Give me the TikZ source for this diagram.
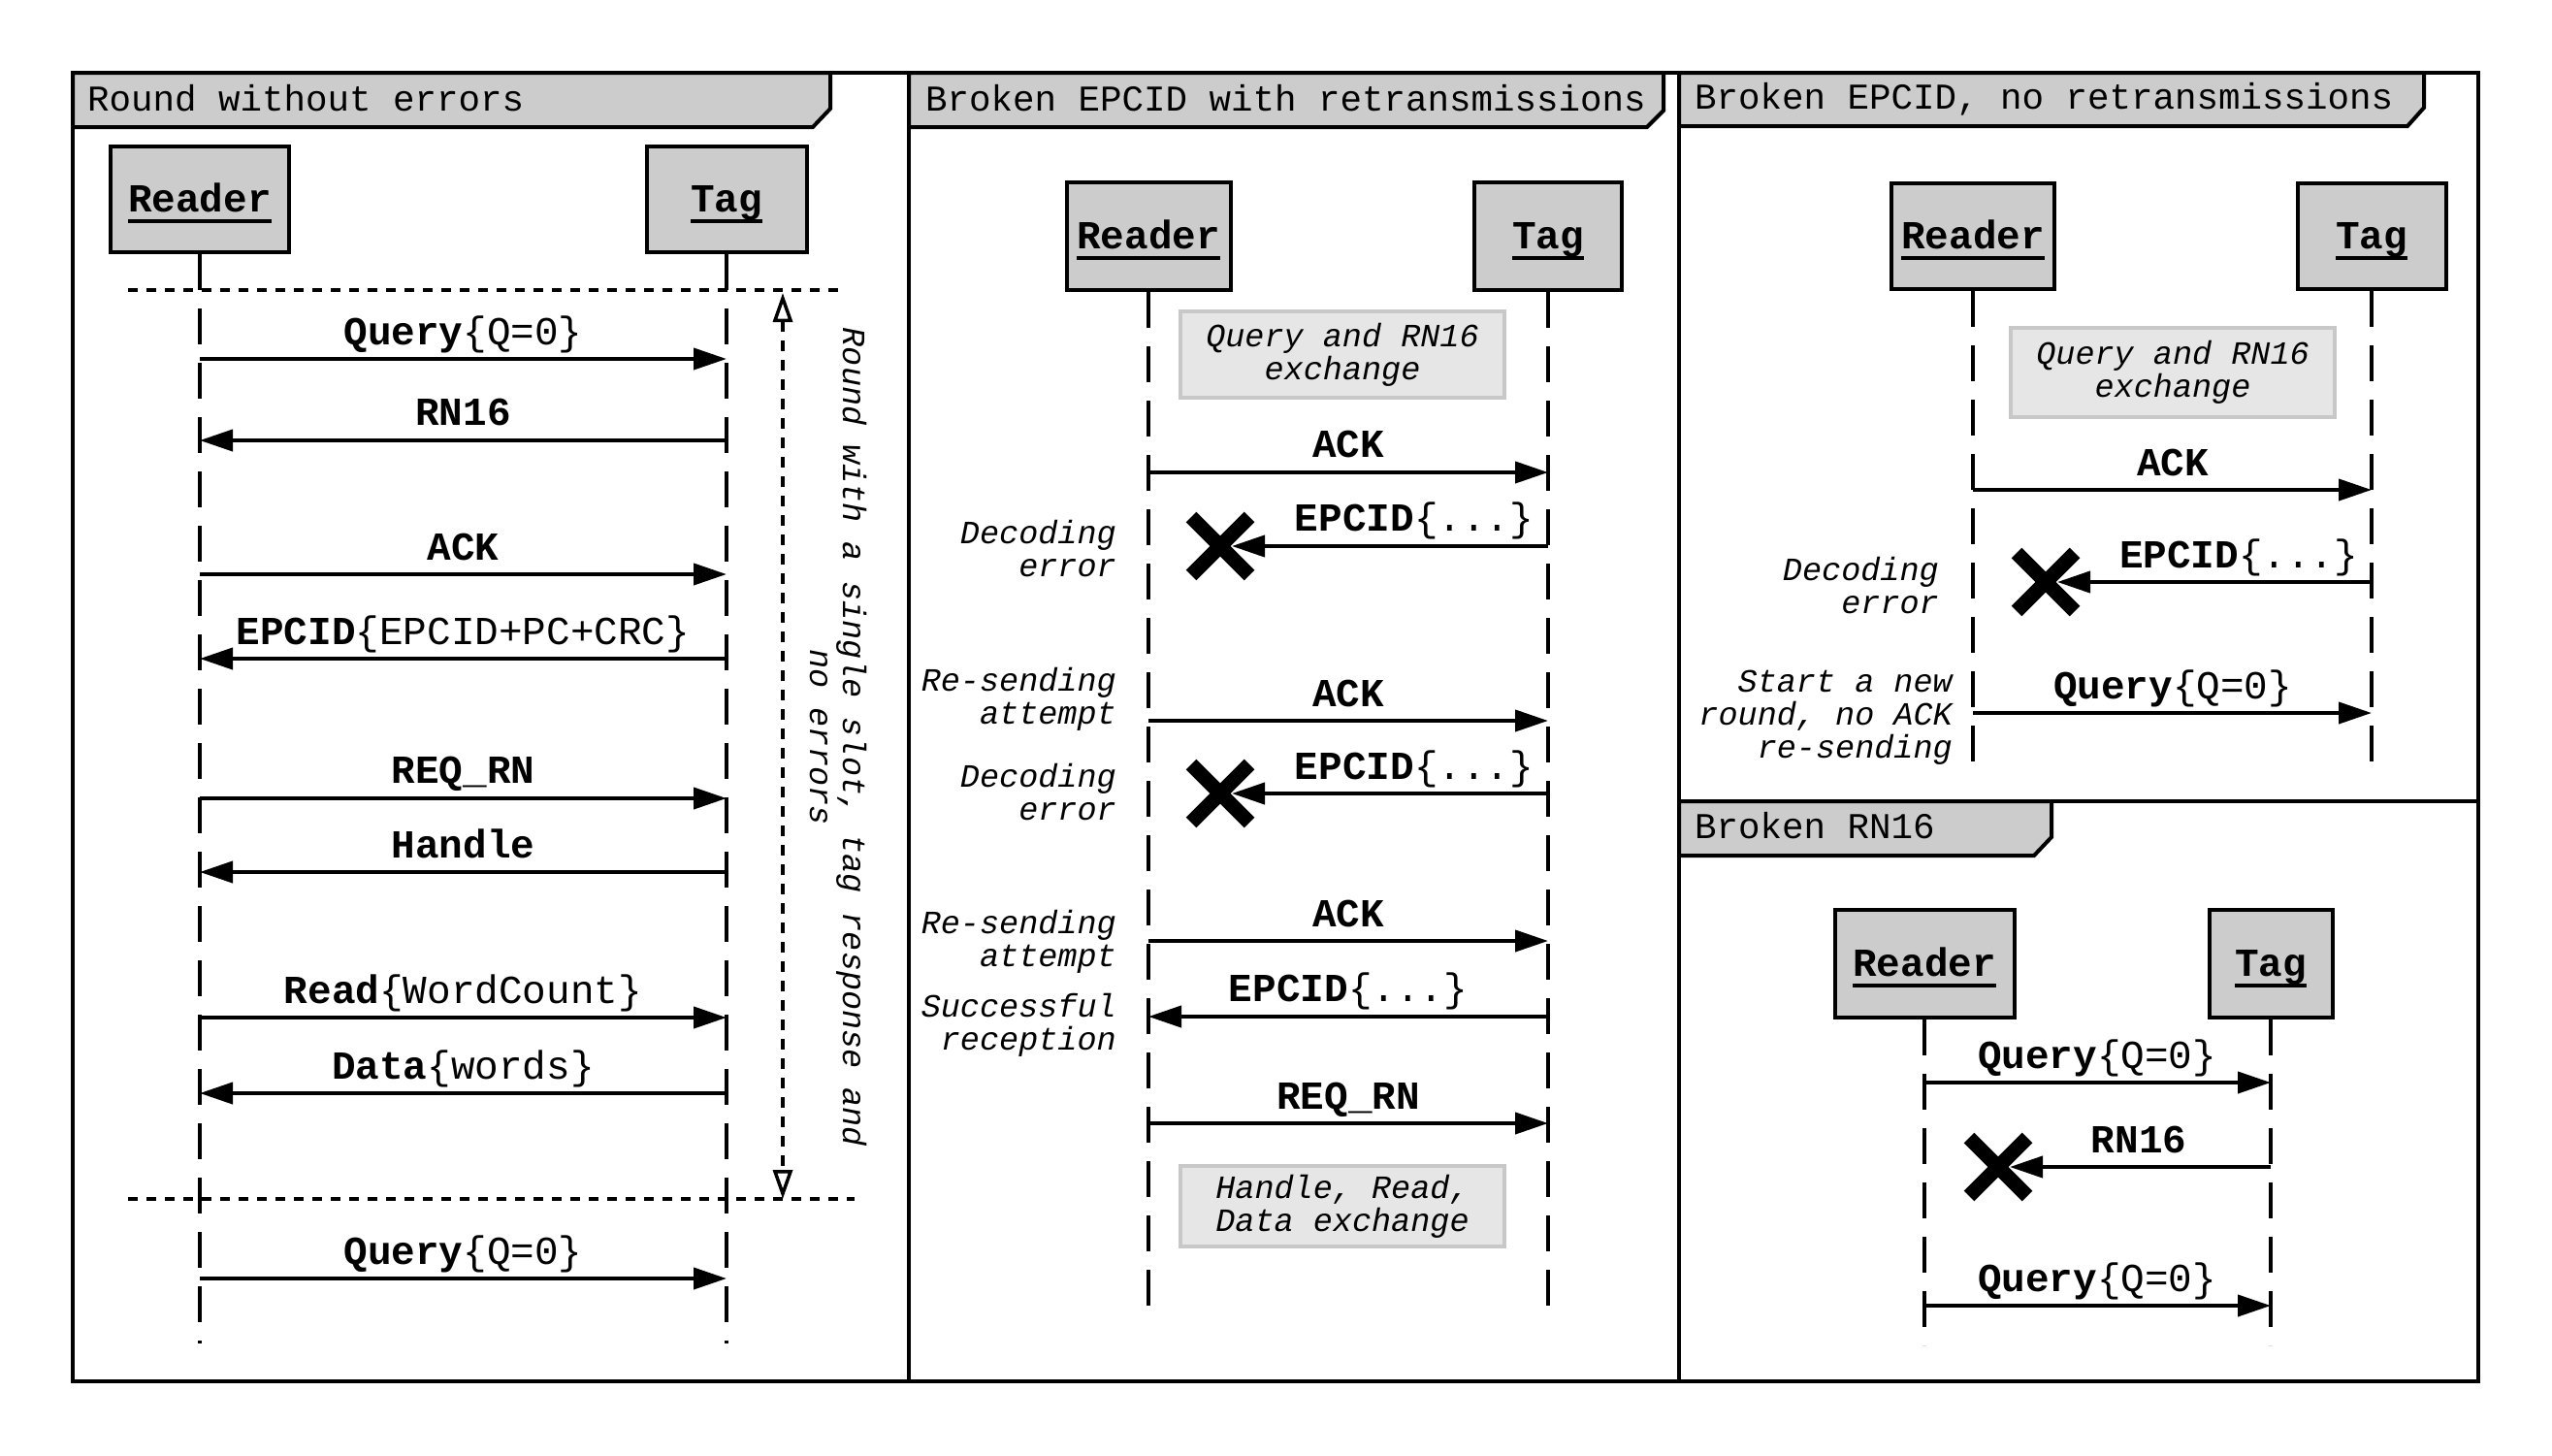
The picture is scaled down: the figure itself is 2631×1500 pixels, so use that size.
\documentclass[tikz,border=0pt]{standalone}
\usepackage{fontspec}
\newfontfamily\monofam{Liberation Mono}
\usetikzlibrary{arrows.meta}
\definecolor{tabgray}{HTML}{CCCCCC}
\definecolor{boxfill}{HTML}{E6E6E6}
\definecolor{boxedge}{HTML}{C8C8C8}
% underlined participant name with a heavy rule
\newcommand\ulname[1]{\setbox0\hbox{#1}\rlap{\rule[-12pt]{\wd0}{4pt}}\box0}

\begin{document}
\begin{tikzpicture}[x=1pt,y=-1pt,
  frameline/.style={line width=4pt},
  titletab/.style={draw, fill=tabgray, line width=4pt},
  tabtext/.style={anchor=base west, inner sep=0pt, font=\monofam\fontsize{37.5pt}{44pt}\selectfont},
  actor/.style={draw, fill=tabgray, line width=4pt, inner sep=0pt, text height=25pt, text depth=0pt,
    font=\monofam\bfseries\fontsize{41pt}{49pt}\selectfont},
  lifeline/.style={line width=3.5pt, dash pattern=on 37pt off 19pt},
  msg/.style={line width=4pt, -{Triangle[length=34pt,width=22pt]}},
  msglabel/.style={anchor=base, inner sep=0pt, font=\monofam\fontsize{41pt}{49pt}\selectfont},
  note/.style={inner sep=0pt, anchor=east, align=right, font=\monofam\itshape\fontsize{33.5pt}{34pt}\selectfont},
  greybox/.style={draw=boxedge, fill=boxfill, line width=4pt, inner sep=0pt, align=center,
    font=\monofam\itshape\fontsize{33.5pt}{34pt}\selectfont},
  roundsep/.style={line width=4pt, dash pattern=on 10pt off 9pt},
  roundspan/.style={line width=3.5pt, dash pattern=on 11pt off 9pt,
    {Triangle[open,length=30pt,width=20pt]}-{Triangle[open,length=30pt,width=20pt]}},
  xline/.style={line width=15pt}
]
\useasboundingbox (0,0) rectangle (2631,1500);

% ---------- title tabs ----------
\draw[titletab] (75,75) -- (856,75) -- (856,112) -- (838,131) -- (75,131) -- cycle;
\node[tabtext] (tt1) at (90,114) {Round without errors};
\draw[titletab] (937,75) -- (1715,75) -- (1715,114) -- (1698,131) -- (937,131) -- cycle;
\node[tabtext] (tt2) at (954,114) {Broken EPCID with retransmissions};
\draw[titletab] (1731,75) -- (2499,75) -- (2499,111) -- (2482,130) -- (1731,130) -- cycle;
\node[tabtext] (tt3) at (1747,112) {Broken EPCID, no retransmissions};
\draw[titletab] (1731,826) -- (2115,826) -- (2115,863) -- (2097,882) -- (1731,882) -- cycle;
\node[tabtext] (tt4) at (1747,864) {Broken RN16};

% ---------- outer frame and panel borders ----------
\draw[frameline] (75,75) rectangle (2555,1424);
\draw[frameline] (937,75) -- (937,1424);
\draw[frameline] (1731,75) -- (1731,1424);
\draw[frameline] (1731,826) -- (2555,826);

% ================= Panel 1: round without errors =================
\node[actor, minimum width=184pt, minimum height=109pt] (r1) at (206,205.5) {\ulname{Reader}};
\node[actor, minimum width=165pt, minimum height=109pt] (t1) at (749,205.5) {\ulname{Tag}};
\coordinate (r1e) at (206,1385);
\coordinate (t1e) at (749,1385);
\draw[lifeline] (r1) -- (r1e);
\draw[lifeline] (t1) -- (t1e);

\coordinate (s1a) at (132,299);
\coordinate (s1b) at (869,299);
\coordinate (s2a) at (132,1236);
\coordinate (s2b) at (881,1236);
\draw[roundsep] (s1a) -- (s1b);
\draw[roundsep] (s2a) -- (s2b);
\coordinate (sp1) at (807,302);
\coordinate (sp2) at (807,1236);
\draw[roundspan] (sp1) -- (sp2);
\node[note, anchor=center, align=center, rotate=-90] (rnote) at (864,760)
  {Round with a single slot, tag response and\\no errors};

\draw[msg] (r1 |- 0,370) -- (t1 |- 0,370);
\node[msglabel] (l11) at (477.5,355) {\textbf{Query}\{Q=0\}};
\draw[msg] (t1 |- 0,454) -- (r1 |- 0,454);
\node[msglabel] (l12) at (477.5,438) {\textbf{RN16}};
\draw[msg] (r1 |- 0,592) -- (t1 |- 0,592);
\node[msglabel] (l13) at (477.5,577) {\textbf{ACK}};
\draw[msg] (t1 |- 0,679) -- (r1 |- 0,679);
\node[msglabel] (l14) at (477.5,664) {\textbf{EPCID}\{EPCID+PC+CRC\}};
\draw[msg] (r1 |- 0,823) -- (t1 |- 0,823);
\node[msglabel] (l15) at (477.5,807) {\textbf{REQ\_RN}};
\draw[msg] (t1 |- 0,899) -- (r1 |- 0,899);
\node[msglabel] (l16) at (477.5,884) {\textbf{Handle}};
\draw[msg] (r1 |- 0,1049) -- (t1 |- 0,1049);
\node[msglabel] (l17) at (477.5,1034) {\textbf{Read}\{WordCount\}};
\draw[msg] (t1 |- 0,1127) -- (r1 |- 0,1127);
\node[msglabel] (l18) at (477.5,1112) {\textbf{Data}\{words\}};
\draw[msg] (r1 |- 0,1318) -- (t1 |- 0,1318);
\node[msglabel] (l19) at (477.5,1303) {\textbf{Query}\{Q=0\}};

% ================= Panel 2: broken EPCID with retransmissions =================
\node[actor, minimum width=169pt, minimum height=111pt] (r2) at (1184,243.5) {\ulname{Reader}};
\node[actor, minimum width=152pt, minimum height=111pt] (t2) at (1596,243.5) {\ulname{Tag}};
\coordinate (r2e) at (1184,1348);
\coordinate (t2e) at (1596,1348);
\draw[lifeline] (r2) -- (r2e);
\draw[lifeline] (t2) -- (t2e);

\node[greybox, minimum width=334pt, minimum height=89pt] (g21) at (1384,365.5) {Query and RN16\\exchange};

\draw[msg] (r2 |- 0,487) -- (t2 |- 0,487);
\node[msglabel] (l21) at (1390,471) {\textbf{ACK}};

\coordinate (x21) at (1258,563);
\draw[xline] ([shift={(-30pt,-30pt)}]x21) -- ([shift={(30pt,30pt)}]x21);
\draw[xline] ([shift={(-30pt,30pt)}]x21) -- ([shift={(30pt,-30pt)}]x21);
\draw[msg] (t2 |- 0,563) -- ([xshift=12pt]x21);
\node[msglabel] (l22) at (1458,547) {\textbf{EPCID}\{...\}};
\node[note] (n21) at (1151,565.5) {Decoding\\error};

\draw[msg] (r2 |- 0,743) -- (t2 |- 0,743);
\node[msglabel] (l23) at (1390,728) {\textbf{ACK}};
\node[note] (n22) at (1151,720.5) {Re-sending\\attempt};

\coordinate (x22) at (1258,818);
\draw[xline] ([shift={(-30pt,-30pt)}]x22) -- ([shift={(30pt,30pt)}]x22);
\draw[xline] ([shift={(-30pt,30pt)}]x22) -- ([shift={(30pt,-30pt)}]x22);
\draw[msg] (t2 |- 0,818) -- ([xshift=12pt]x22);
\node[msglabel] (l24) at (1458,803) {\textbf{EPCID}\{...\}};
\node[note] (n23) at (1151,816.5) {Decoding\\error};

\draw[msg] (r2 |- 0,970) -- (t2 |- 0,970);
\node[msglabel] (l25) at (1390,955) {\textbf{ACK}};
\node[note] (n24) at (1151,970.5) {Re-sending\\attempt};

\draw[msg] (t2 |- 0,1048) -- (r2 |- 0,1048);
\node[msglabel] (l26) at (1390,1032) {\textbf{EPCID}\{...\}};
\node[note] (n25) at (1151,1056.5) {Successful\\reception};

\draw[msg] (r2 |- 0,1158) -- (t2 |- 0,1158);
\node[msglabel] (l27) at (1390,1143) {\textbf{REQ\_RN}};

\node[greybox, minimum width=334pt, minimum height=83pt] (g22) at (1384,1243.5) {Handle, Read,\\Data exchange};

% ================= Panel 3: broken EPCID, no retransmissions =================
\node[actor, minimum width=168pt, minimum height=109pt] (r3) at (2034,243.5) {\ulname{Reader}};
\node[actor, minimum width=153pt, minimum height=109pt] (t3) at (2445,243.5) {\ulname{Tag}};
\coordinate (r3e) at (2034,786);
\coordinate (t3e) at (2445,786);
\draw[lifeline] (r3) -- (r3e);
\draw[lifeline] (t3) -- (t3e);

\node[greybox, minimum width=334pt, minimum height=92pt] (g31) at (2240,384) {Query and RN16\\exchange};

\draw[msg] (r3 |- 0,505) -- (t3 |- 0,505);
\node[msglabel] (l31) at (2240,490) {\textbf{ACK}};

\coordinate (x31) at (2109,600);
\draw[xline] ([shift={(-30pt,-30pt)}]x31) -- ([shift={(30pt,30pt)}]x31);
\draw[xline] ([shift={(-30pt,30pt)}]x31) -- ([shift={(30pt,-30pt)}]x31);
\draw[msg] (t3 |- 0,600) -- ([xshift=12pt]x31);
\node[msglabel] (l32) at (2308,585) {\textbf{EPCID}\{...\}};
\node[note] (n31) at (1999,603.5) {Decoding\\error};

\draw[msg] (r3 |- 0,735) -- (t3 |- 0,735);
\node[msglabel] (l33) at (2240,720) {\textbf{Query}\{Q=0\}};
\node[note] (n32) at (2013,740) {Start a new\\round, no ACK\\re-sending};

% ================= Panel 4: broken RN16 =================
\node[actor, minimum width=185pt, minimum height=111pt] (r4) at (1984,993.5) {\ulname{Reader}};
\node[actor, minimum width=127pt, minimum height=111pt] (t4) at (2341,993.5) {\ulname{Tag}};
\coordinate (r4e) at (1984,1387);
\coordinate (t4e) at (2341,1387);
\draw[lifeline] (r4) -- (r4e);
\draw[lifeline] (t4) -- (t4e);

\draw[msg] (r4 |- 0,1116) -- (t4 |- 0,1116);
\node[msglabel] (l41) at (2162,1101) {\textbf{Query}\{Q=0\}};

\coordinate (x41) at (2060,1203);
\draw[xline] ([shift={(-30pt,-30pt)}]x41) -- ([shift={(30pt,30pt)}]x41);
\draw[xline] ([shift={(-30pt,30pt)}]x41) -- ([shift={(30pt,-30pt)}]x41);
\draw[msg] (t4 |- 0,1203) -- ([xshift=12pt]x41);
\node[msglabel] (l42) at (2205,1188) {\textbf{RN16}};

\draw[msg] (r4 |- 0,1346) -- (t4 |- 0,1346);
\node[msglabel] (l43) at (2162,1331) {\textbf{Query}\{Q=0\}};
\end{tikzpicture}
\end{document}
